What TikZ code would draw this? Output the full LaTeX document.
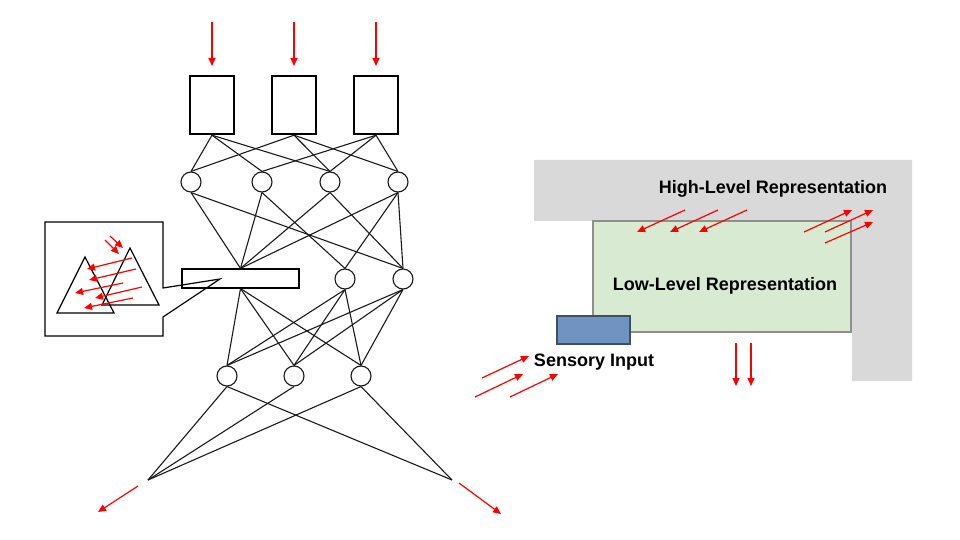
\documentclass[tikz,border=0pt]{standalone}
\usepackage{fontspec}
\setmainfont{Liberation Sans}
\usetikzlibrary{arrows.meta}
\definecolor{hlgrey}{HTML}{D9D9D9}
\definecolor{llgreen}{HTML}{D9EAD3}
\definecolor{llborder}{HTML}{8F8F8F}
\definecolor{sensblue}{HTML}{7093C1}
\definecolor{sensborder}{HTML}{3F4F66}
\definecolor{netline}{HTML}{1A1A1A}
\begin{document}
\begin{tikzpicture}[x=0.5pt,y=-0.5pt,
  unit/.style={draw=netline, circle, minimum size=10pt, inner sep=0pt, line width=0.55pt},
  inbox/.style={draw=black, line width=1.2pt, minimum width=22pt, minimum height=29pt, inner sep=0pt},
  barbox/.style={draw=black, line width=0.6pt, minimum width=58.5pt, minimum height=9.5pt, inner sep=0pt},
  link/.style={draw=netline, line width=0.55pt},
  redarrow/.style={draw=red, line width=0.6pt, -{Triangle[length=4pt,width=3.5pt]}},
  smallarrow/.style={draw=red, line width=0.6pt, -{Triangle[length=4pt,width=3.5pt]}},
  lbl/.style={font=\fontsize{9}{11}\selectfont\bfseries, inner sep=0pt}]
\useasboundingbox (0,0) rectangle (960,540);

% ---------- left network ----------
\node[inbox] (b1) at (212,105) {};
\node[inbox] (b2) at (294,105) {};
\node[inbox] (b3) at (376,105) {};

\node[unit] (c1) at (191,182) {};
\node[unit] (c2) at (262,182) {};
\node[unit] (c3) at (330,182) {};
\node[unit] (c4) at (398,182) {};

\node[barbox] (bar) at (240.5,278.5) {};
\node[unit] (r1) at (345,279) {};
\node[unit] (r2) at (403,279) {};

\node[unit] (s1) at (227,376) {};
\node[unit] (s2) at (294,376) {};
\node[unit] (s3) at (361,376) {};

\coordinate (oL) at (148,480);
\coordinate (oR) at (452,480);

% boxes -> first row
\foreach \a/\b in {b1/c1,b1/c2,b1/c3,b2/c1,b2/c3,b2/c4,b3/c2,b3/c3,b3/c4}
  \draw[link] (\a.south) -- (\b.north);
% first row -> second row
\foreach \a in {c1,c2,c3,c4} \draw[link] (\a.south) -- (bar.north);
\foreach \a/\b in {c2/r1,c4/r1,c1/r2,c3/r2,c4/r2}
  \draw[link] (\a.south) -- (\b.north);
% second row -> third row
\foreach \a in {bar,r1,r2}
  \foreach \b in {s1,s2,s3}
    \draw[link] (\a.south) -- (\b.north);
% third row -> outputs
\foreach \a/\b in {s1/oL,s2/oL,s3/oL,s1/oR,s3/oR}
  \draw[link] (\a.south) -- (\b);

% input arrows
\draw[redarrow] (212,22) -- (212,66);
\draw[redarrow] (294,22) -- (294,66);
\draw[redarrow] (376,22) -- (376,66);
% output arrows
\draw[redarrow] (138,486) -- (98,512);
\draw[redarrow] (459,483) -- (501,514);

% ---------- inset callout ----------
\draw[draw=black, line width=0.6pt] (163,288) -- (163,222) -- (45,222) -- (45,336) -- (163,336) -- (163,317) -- (220,279) -- cycle;
\draw[black, line width=0.6pt] (85,257) -- (57,313) -- (114,313) -- cycle;
\draw[black, line width=0.6pt] (130,248) -- (102,305) -- (159,305) -- cycle;
\draw[smallarrow] (132,258) -- (87,269);
\draw[smallarrow] (136,269) -- (89,280);
\draw[smallarrow] (123,283) -- (75,293);
\draw[smallarrow] (142,287) -- (95,298);
\draw[smallarrow] (133,298) -- (84,308);
\draw[smallarrow] (110,236) -- (123,248);
\draw[smallarrow] (105,240) -- (119,254);

% ---------- right diagram ----------
\fill[hlgrey] (534,160) -- (912,160) -- (912,381) -- (852,381) -- (852,221) -- (534,221) -- cycle;
\node[draw=llborder, fill=llgreen, line width=0.6pt, minimum width=129pt, minimum height=55.5pt, inner sep=0pt] (low) at (722,276.5) {};
\node[draw=sensborder, fill=sensblue, line width=0.6pt, minimum width=36.5pt, minimum height=14pt, inner sep=0pt] (sens) at (593.5,330) {};

\node[lbl] (hl) at (773,189) {High-Level Representation};
\node[lbl] (ll) at (725,286) {Low-Level Representation};
\node[lbl] (si) at (594,362) {Sensory Input};

\draw[redarrow] (685,210) -- (637,232);
\draw[redarrow] (718,210) -- (670,232);
\draw[redarrow] (747,210) -- (699,232);
\draw[redarrow] (804,232) -- (852,210);
\draw[redarrow] (825,232) -- (873,210);
\draw[redarrow] (825,243) -- (873,222);
\draw[redarrow] (736,343) -- (736,386);
\draw[redarrow] (751,343) -- (751,386);
\draw[redarrow] (482,378) -- (529,356);
\draw[redarrow] (475,397) -- (523,374);
\draw[redarrow] (510,397) -- (558,374);
\end{tikzpicture}
\end{document}
